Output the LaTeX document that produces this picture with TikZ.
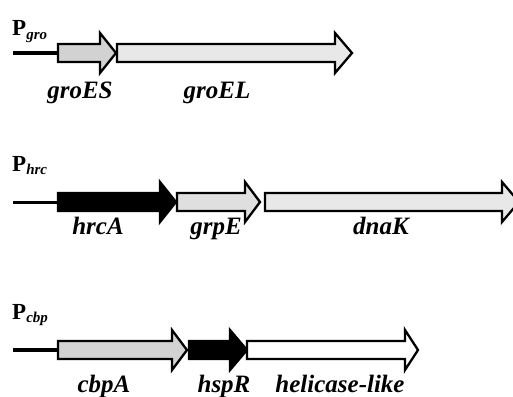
\documentclass[tikz,border=0pt]{standalone}
\usepackage{fontspec}
\setmainfont{Liberation Serif}
\tikzset{
  genebox/.style={draw=black, line width=2.3pt, line join=miter, miter limit=10},
  promline/.style={line width=3.5pt},
  genelabel/.style={anchor=base, inner sep=0pt, font=\fontsize{25}{25}\selectfont\bfseries\itshape},
  promlabel/.style={anchor=base west, inner sep=0pt, font=\fontsize{23}{23}\selectfont\bfseries},
}
\newcommand\genearrow[5]{%
  \draw[genebox, fill=#5] (#1,#4-9) -- (#2,#4-9) -- (#2,#4-20) -- (#3,#4) -- (#2,#4+20) -- (#2,#4+9) -- (#1,#4+9) -- cycle;}
\newcommand\promsub[1]{\textsubscript{\itshape\fontsize{15}{15}\selectfont #1}}
\begin{document}
\begin{tikzpicture}[x=1pt,y=-1pt]
\useasboundingbox[fill=white] (0,0) rectangle (513,396);
% row 1
\coordinate (s1) at (13,53);
\coordinate (e1) at (60,53);
\draw[promline] (s1) -- (e1);
\genearrow{58}{100}{116}{53}{gray!35}
\genearrow{117}{335}{352}{53}{gray!18}
\node[promlabel] (pgro) at (12,36) {P\promsub{gro}};
\node[genelabel] (groES) at (80,98) {groES};
\node[genelabel] (groEL) at (217,98) {groEL};
% row 2
\coordinate (s2) at (13,202);
\coordinate (e2) at (60,202);
\draw[promline, line width=3pt] (s2) -- (e2);
\genearrow{58}{160}{176}{202}{black}
\genearrow{177}{245}{260}{202}{gray!25}
\genearrow{265}{502}{519}{202}{gray!18}
\node[promlabel] (phrc) at (12,171) {P\promsub{hrc}};
\node[genelabel] (hrcA) at (98,234) {hrcA};
\node[genelabel] (grpE) at (216,234) {grpE};
\node[genelabel] (dnaK) at (381,234) {dnaK};
% row 3
\coordinate (s3) at (13,350);
\coordinate (e3) at (60,350);
\draw[promline] (s3) -- (e3);
\genearrow{58}{172}{187}{350}{gray!35}
\genearrow{189}{230}{247}{350}{black}
\genearrow{247}{405}{418}{350}{white}
\node[promlabel] (pcbp) at (12,319) {P\promsub{cbp}};
\node[genelabel] (cbpA) at (104,392) {cbpA};
\node[genelabel] (hspR) at (224,392) {hspR};
\node[genelabel] (helic) at (340,392) {helicase-like};
\end{tikzpicture}
\end{document}
